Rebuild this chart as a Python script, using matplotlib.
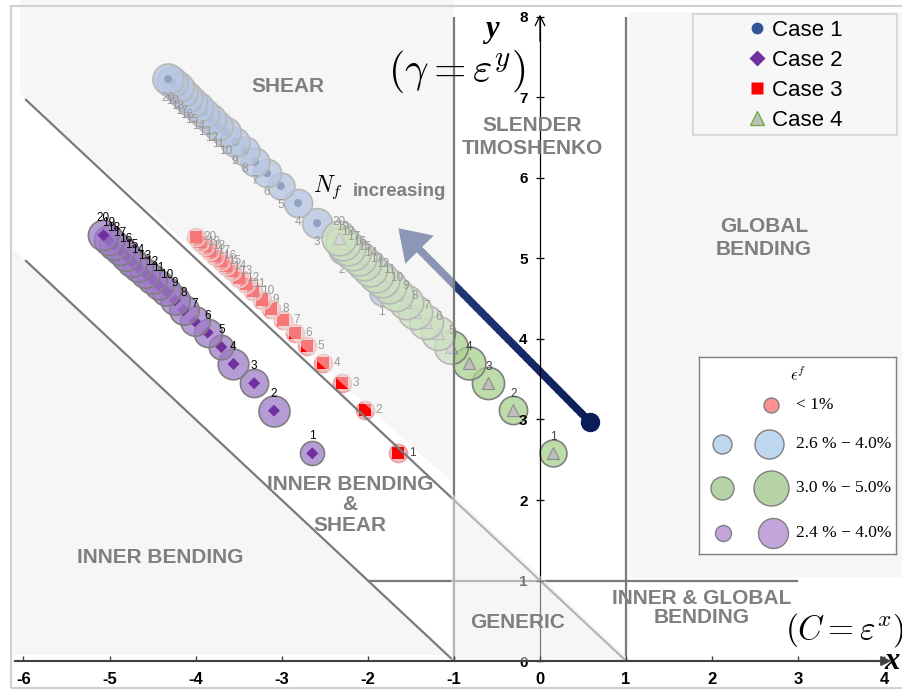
import matplotlib.pyplot as plt
import numpy as np
from matplotlib.collections import LineCollection
from matplotlib.colors import to_rgb
from matplotlib.lines import Line2D
from matplotlib.patches import Polygon, Rectangle

plt.rcParams["font.family"] = ["Liberation Sans", "DejaVu Sans"]
plt.rcParams["mathtext.fontset"] = "cm"
plt.rcParams["axes.unicode_minus"] = False

# ---- values ----
n_f = list(range(1, 21))

case1_x = [-1.84, -2.30, -2.59, -2.81, -3.01, -3.17, -3.31, -3.43, -3.54, -3.65,
           -3.74, -3.82, -3.90, -3.97, -4.04, -4.10, -4.16, -4.21, -4.27, -4.32]
case1_y = [4.57, 5.09, 5.44, 5.69, 5.90, 6.06, 6.20, 6.34, 6.45, 6.57,
           6.65, 6.73, 6.81, 6.88, 6.95, 7.01, 7.07, 7.13, 7.19, 7.23]
case1_eps = [2.6, 2.8, 3.7, 3.3, 3.0, 3.3, 3.4, 3.5, 3.5, 3.6,
             3.6, 3.7, 3.7, 3.8, 3.8, 3.9, 3.9, 4.0, 4.0, 4.0]

case2_x = [-2.645, -3.09, -3.32, -3.56, -3.70, -3.86, -4.01, -4.14, -4.24, -4.34,
           -4.43, -4.51, -4.59, -4.67, -4.74, -4.81, -4.88, -4.95, -5.01, -5.07]
case2_y = [2.58, 3.11, 3.45, 3.69, 3.90, 4.08, 4.22, 4.36, 4.48, 4.59,
           4.67, 4.75, 4.82, 4.89, 4.96, 5.03, 5.10, 5.17, 5.23, 5.29]
case2_eps = [2.4, 4.0, 3.3, 3.9, 2.5, 3.3, 3.6, 3.6, 3.6, 3.5,
             3.5, 3.6, 3.6, 3.6, 3.7, 3.7, 3.7, 3.7, 3.8, 3.8]

case3_x = [-1.645, -2.03, -2.30, -2.52, -2.71, -2.85, -2.99, -3.12, -3.23, -3.33,
           -3.42, -3.50, -3.58, -3.65, -3.71, -3.77, -3.83, -3.89, -3.95, -4.00]
case3_y = [2.59, 3.12, 3.45, 3.70, 3.91, 4.08, 4.24, 4.37, 4.48, 4.59,
           4.68, 4.76, 4.84, 4.91, 4.97, 5.03, 5.09, 5.15, 5.21, 5.27]

case4_x = [0.155, -0.31, -0.60, -0.83, -1.03, -1.18, -1.32, -1.45, -1.56, -1.67,
           -1.75, -1.83, -1.90, -1.97, -2.04, -2.10, -2.17, -2.23, -2.29, -2.34]
case4_y = [2.58, 3.12, 3.45, 3.70, 3.90, 4.07, 4.21, 4.34, 4.46, 4.56,
           4.66, 4.73, 4.80, 4.87, 4.94, 5.01, 5.07, 5.13, 5.19, 5.25]
case4_eps = [3.0, 3.3, 4.3, 4.5, 4.7, 4.8, 4.8, 4.9, 4.9, 4.9,
             5.0, 5.0, 5.0, 5.0, 5.0, 5.0, 5.0, 5.0, 5.0, 5.0]

case_names = ["Case 1", "Case 2", "Case 3", "Case 4"]
strain_labels = ["< 1%", "2.6 % \u2212 4.0%", "3.0 % \u2212 5.0%", "2.4 % \u2212 4.0%"]
x_ticks = list(range(-6, 5))
y_ticks = list(range(0, 9))

# N_f increasing arrow (start, tip)
arrow_start = (0.58, 2.97)
arrow_tip = (-1.645, 5.375)

W, H = 903, 692
GRAY_TXT = "#7f7f7f"


def size_px(d):
    # marker diameter in pixels -> scatter size in points^2
    return (d * 0.72) ** 2


def rgba(c, a):
    return (*to_rgb(c), a)


fig = plt.figure(figsize=(W / 100, H / 100), dpi=100)
ax = fig.add_axes([0, 0, 1, 1])
ax.set_xlim(-6.272, 4.216)
ax.set_ylim(-0.385, 8.211)

# ---- bubbles and markers ----
cases = [
    dict(x=case1_x, y=case1_y, eps=case1_eps, face=rgba("#7f9fd6", 0.8),
         m="o", mc="#2f5597", mec="none", ms=8, off=(0, -13.5), lc="#404040"),
    dict(x=case2_x, y=case2_y, eps=case2_eps, face=rgba("#9e7bc7", 0.75),
         m="D", mc="#7030a0", mec="none", ms=8.5, off=(0, 12.2), lc="black"),
    dict(x=case3_x, y=case3_y, eps=None, face=rgba("#f08080", 0.5),
         m="s", mc="#ff0000", mec="none", ms=12, off=(10, 0), lc="#404040"),
    dict(x=case4_x, y=case4_y, eps=case4_eps, face=rgba("#a9d18e", 0.75),
         m="^", mc="#bfbfbf", mec="#8c8c8c", ms=12, off=(0, 11.5), lc="#404040"),
]

for c in cases:
    for i in range(len(c["x"])):
        if c["eps"] is None:
            s = size_px(18)
            ec = "#e8a0a0"
        else:
            s = 124.5 * c["eps"][i]
            ec = "#7f7f7f"
        ax.scatter(c["x"][i], c["y"][i], s=s, facecolors=[c["face"]],
                   edgecolors=ec, linewidths=1.2, zorder=2)
        ax.scatter(c["x"][i], c["y"][i], s=size_px(c["ms"]), marker=c["m"],
                   facecolors=c["mc"], edgecolors=c["mec"], linewidths=0.8, zorder=2)
    for i, n in enumerate(n_f):
        ax.annotate(str(n), (c["x"][i], c["y"][i]), xytext=c["off"],
                    textcoords="offset points", ha="center", va="center",
                    fontsize=8.5, color=c["lc"], zorder=2)

# N_f arrow with a colour gradient
t = np.linspace(0, 1, 40)
ax_pts = arrow_start[0] + (arrow_tip[0] - arrow_start[0]) * t * 0.92
ay_pts = arrow_start[1] + (arrow_tip[1] - arrow_start[1]) * t * 0.92
segs = np.stack([np.column_stack([ax_pts[:-1], ay_pts[:-1]]),
                 np.column_stack([ax_pts[1:], ay_pts[1:]])], axis=1)
c0, c1 = np.array(to_rgb("#0b1c58")), np.array(to_rgb("#2a4080"))
cols = [c0 + (c1 - c0) * v for v in t[:-1]]
ax.add_collection(LineCollection(segs, colors=cols, linewidths=5.5, capstyle="round",
                                 zorder=2.5))
ax.annotate("", xy=arrow_tip, xytext=(ax_pts[-6], ay_pts[-6]),
            arrowprops=dict(arrowstyle="-|>,head_length=0.9,head_width=0.6",
                            mutation_scale=24, color="#2a4080", lw=0,
                            shrinkA=0, shrinkB=0), zorder=2.5)
ax.scatter(*arrow_start, s=size_px(18), color="#0b1c58", zorder=2.6)

# ---- shaded regions (drawn over the markers) ----
shade = dict(facecolor="#efefef", alpha=0.5, edgecolor="none")
ax.add_patch(Polygon([(-6.04, 8.3), (-1.0, 8.3), (-1.0, 2.2), (-6.04, 7.04)], zorder=3, **shade))
ax.add_patch(Polygon([(-6.13, 0.075), (-1.075, 0.075), (-6.13, 5.13)], zorder=3, **shade))
ax.add_patch(Polygon([(1.03, 1.04), (4.4, 1.04), (4.4, 8.06), (1.03, 8.06)], zorder=3, **shade))

# region boundaries
line_kw = dict(color="#7a7a7a", lw=1.6, zorder=4, solid_capstyle="butt")
ax.plot([-5.98, 1.0], [6.98, 0.0], **line_kw)
ax.plot([-5.98, -1.0], [4.98, 0.0], **line_kw)
ax.plot([-1, -1], [0, 8.0], **line_kw)
ax.plot([1, 1], [0, 8.0], **line_kw)
ax.plot([-2, 3], [1, 1], **line_kw)

ax.add_patch(Polygon([(-1.03, 0.0), (1.06, 0.0), (-1.03, 2.09)], zorder=5, **shade))

# ---- axes through the origin ----
for s in ["top", "right"]:
    ax.spines[s].set_visible(False)
ax.spines["bottom"].set_position(("data", 0))
ax.spines["left"].set_position(("data", 0))
ax.spines["bottom"].set_bounds(-6.1, 4.0)
ax.spines["left"].set_bounds(0, 8.0)
ax.spines["bottom"].set_color("#404040")
ax.spines["bottom"].set_linewidth(1.5)
ax.spines["bottom"].set_zorder(6)
ax.spines["left"].set_color("black")
ax.spines["left"].set_linewidth(0.9)
ax.spines["left"].set_zorder(4)
ax.set_xticks(x_ticks)
ax.set_yticks(y_ticks)
ax.tick_params(axis="x", direction="in", length=3.6, width=1, color="#404040", pad=8,
               labelsize=12, labelfontfamily="Liberation Sans")
ax.tick_params(axis="y", direction="inout", length=6, width=0.9, color="black", pad=6,
               labelsize=11, labelfontfamily="Liberation Sans")
ax.xaxis.set_zorder(6)
ax.yaxis.set_zorder(4.5)

ax.annotate("", xy=(4.08, 0), xytext=(3.8, 0),
            arrowprops=dict(arrowstyle="-|>", mutation_scale=14, color="#404040",
                            lw=1.5, shrinkA=0, shrinkB=0), zorder=6)
ax.annotate("", xy=(0, 8.03), xytext=(0, 7.7),
            arrowprops=dict(arrowstyle="->,head_length=0.5,head_width=0.25",
                            mutation_scale=14, color="black", lw=0.9,
                            shrinkA=0, shrinkB=0), zorder=6)

# ---- region labels ----
reg = dict(color=GRAY_TXT, fontsize=15, fontweight="bold", ha="center", va="center",
           zorder=8, linespacing=1.25)
ax.text(-2.93, 7.14, "SHEAR", **reg)
ax.text(-0.09, 6.51, "SLENDER\nTIMOSHENKO", **reg)
ax.text(2.60, 5.25, "GLOBAL\nBENDING", **reg)
ax.text(-2.21, 1.94, "INNER BENDING\n&\nSHEAR", **dict(reg, linespacing=1.1))
ax.text(-4.41, 1.29, "INNER BENDING", **reg)
ax.text(-0.26, 0.48, "GENERIC", **reg)
ax.text(1.88, 0.66, "INNER & GLOBAL\nBENDING", **dict(reg, linespacing=1.0))

ax.text(-2.46, 5.88, r"$N_f$", fontsize=17, ha="center", va="center", zorder=8)
ax.text(-1.63, 5.83, "increasing", color=GRAY_TXT, fontsize=13.5, fontweight="bold",
        ha="center", va="center", zorder=8)
ax.text(-0.56, 7.84, "y", family="Liberation Serif", style="italic", fontweight="bold",
        fontsize=22, ha="center", va="center", zorder=8)
ax.text(4.09, 0.0, "x", family="Liberation Serif", style="italic", fontweight="bold",
        fontsize=22, ha="center", va="center", zorder=8)
ax.text(-0.96, 7.32, r"$(\gamma = \varepsilon^{y})$", fontsize=30, ha="center",
        va="center", zorder=8)
ax.text(3.54, 0.385, r"$(C = \varepsilon^{x})$", fontsize=24, ha="center", va="center",
        zorder=8)

# ---- figure frame ----
fig.patches.append(Rectangle((11 / W, 4 / H), 1.0, (686 - 4) / H, transform=fig.transFigure,
                             fill=False, edgecolor="#d0d0d0", lw=1.5, zorder=0))

# ---- case legend ----
ax.add_patch(Rectangle((693 / W, 1 - 135 / H), 204 / W, 121 / H, transform=ax.transAxes,
                       facecolor="#f7f7f7", edgecolor="#d9d9d9", lw=1.5, zorder=7))
handles = [
    Line2D([], [], ls="none", marker="o", ms=8.5, mfc="#2f5597", mec="none"),
    Line2D([], [], ls="none", marker="D", ms=8, mfc="#7030a0", mec="none"),
    Line2D([], [], ls="none", marker="s", ms=8, mfc="#ff0000", mec="none"),
    Line2D([], [], ls="none", marker="^", ms=10, mfc="#bfbfbf", mec="#70ad47", mew=1),
]
leg = ax.legend(handles, case_names, loc="upper left", bbox_to_anchor=(748 / W, 1 - 20 / H),
                frameon=False, fontsize=16, handlelength=0.8, handletextpad=0.3,
                labelspacing=0.4, borderpad=0, borderaxespad=0)
leg.set_zorder(9)

# ---- strain legend ----
lg = fig.add_axes([699 / W, 1 - 554 / H, 197 / W, 197 / H])
lg.set_xlim(0, 197)
lg.set_ylim(197, 0)
lg.set_xticks([])
lg.set_yticks([])
for s in lg.spines.values():
    s.set_color("#7f7f7f")
    s.set_linewidth(1)
lg.text(99, 18, r"$\epsilon^f$", fontsize=12, ha="center", va="center")
leg_rows = [
    (48, None, (72, 15), "#ff9090"),
    (87, (23, 19), (70, 29), "#bdd7ee"),
    (131, (23, 23), (72, 35), "#b5d3a5"),
    (176, (24, 16), (74, 30), "#c3a5dc"),
]
for (yy, small, big, col), txt in zip(leg_rows, strain_labels):
    for item in (small, big):
        if item is not None:
            lg.scatter(item[0], yy, s=size_px(item[1]), color=col, edgecolors="#7f7f7f",
                       linewidths=1)
    lg.text(97, yy, txt, family="Liberation Serif", fontsize=12.5, ha="left", va="center")

# bold tick labels
for lab in ax.get_xticklabels() + ax.get_yticklabels():
    lab.set_fontweight("bold")

fig.savefig("out.png", dpi=100)
